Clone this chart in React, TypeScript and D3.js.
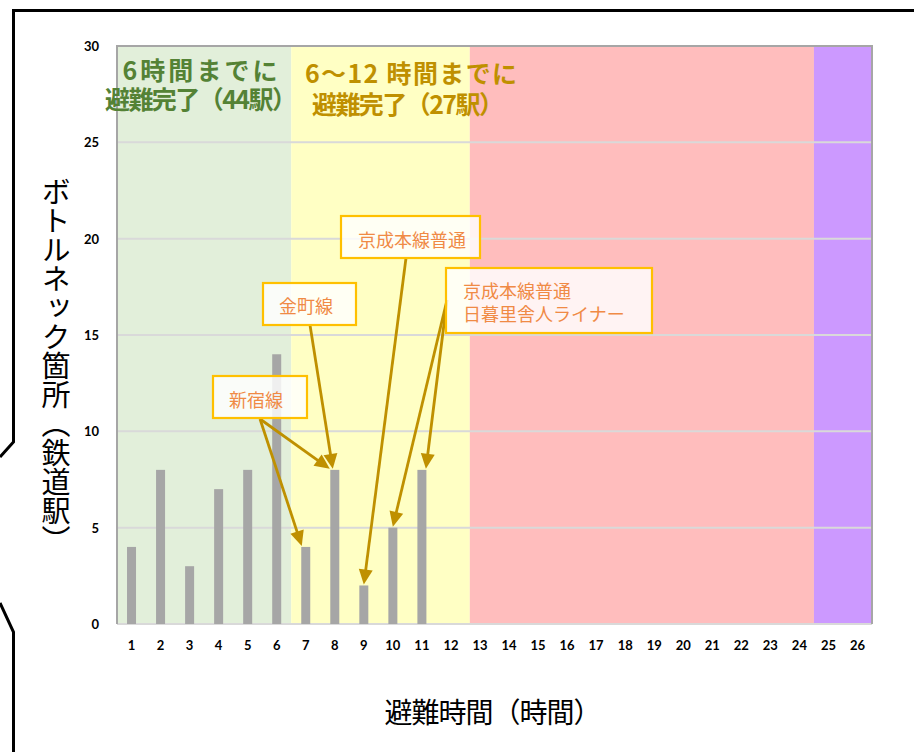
import React from 'react';
import * as d3 from 'd3';

// ---- data ----
const hourLabels: string[] = ['1','2','3','4','5','6','7','8','9','10','11','12','13','14','15','16','17','18','19','20','21','22','23','24','25','26'];
const bottleneckCounts: number[] = [4, 8, 3, 7, 8, 14, 4, 8, 2, 5, 8, 0, 0, 0, 0, 0, 0, 0, 0, 0, 0, 0, 0, 0, 0, 0];
const yTicks: number[] = [0, 5, 10, 15, 20, 25, 30];
const zoneStart: number[] = [0, 6, 12.15, 24];
const zoneEnd: number[] = [6, 12.15, 24, 26];
const zoneColors: string[] = ['#e2efda', '#ffffc4', '#ffbdbd', '#cc99ff'];
const annotationLines: string[][] = [['京成本線普通'], ['京成本線普通', '日暮里舎人ライナー'], ['金町線'], ['新宿線']];
const annotationTargets: string[][] = [['9'], ['10', '11'], ['8'], ['7', '8']];
const yTitle = 'ボトルネック箇所（鉄道駅）';
const xTitle = '避難時間（時間）';

// ---- layout ----
const W = 914, H = 752;
const PL = 117, PR = 872, PT = 46, PB = 624;
const boxes = [
  { x: 341, y: 216, w: 139, h: 42, ox: 406, oy: 258, tx: 412, ty: 239, anchor: 'middle', dx: [0] },
  { x: 446, y: 268, w: 206, h: 65, ox: 447, oy: 300, tx: 463, ty: 290, anchor: 'start', dx: [0, 4] },
  { x: 263, y: 283, w: 93, h: 42, ox: 310, oy: 325, tx: 306, ty: 305, anchor: 'middle', dx: [-2] },
  { x: 213, y: 376, w: 94, h: 42, ox: 260, oy: 419, tx: 256, ty: 399, anchor: 'middle', dx: [-4, -5] },
];
const CJK = '"Noto Sans CJK JP", "Noto Sans", sans-serif';
const NUM = 'Lato, "Open Sans", sans-serif';

export default function App() {
  const x = d3.scaleBand<string>().domain(hourLabels).range([PL, PR]).padding(0);
  const xh = d3.scaleLinear().domain([0, 26]).range([PL, PR]);
  const y = d3.scaleLinear().domain([0, 30]).range([PB, PT]);
  const bw = x.bandwidth() * 0.31;

  const arrow = (x1: number, y1: number, x2: number, y2: number, key: string) => {
    const len = Math.hypot(x2 - x1, y2 - y1);
    const ux = (x2 - x1) / len, uy = (y2 - y1) / len;
    const hl = 15, hw = 7;
    const bx = x2 - ux * hl, by = y2 - uy * hl;
    const px = -uy, py = ux;
    const pts = [[x2, y2], [bx + px * hw, by + py * hw], [bx - px * hw, by - py * hw]];
    return (
      <g key={key}>
        <line x1={x1} y1={y1} x2={bx + ux * 2} y2={by + uy * 2} stroke="#bf9000" strokeWidth={2.8} />
        <polygon points={pts.map(p => p.join(',')).join(' ')} fill="#bf9000" />
      </g>
    );
  };

  return (
    <svg width={W} height={H} style={{ position: 'absolute', left: 0, top: 0, background: '#fff' }}>
      {/* outer frame */}
      <path d={`M ${W + 5} 10.5 L 13.5 10.5 L 13.5 442 L 0 457`} fill="none" stroke="#000" strokeWidth={3} />
      <path d={`M 0 603 L 13.5 632 L 13.5 ${H + 5}`} fill="none" stroke="#000" strokeWidth={3} />

      {/* zones */}
      {zoneStart.map((s, i) => (
        <rect key={'z' + i} x={xh(s)} y={PT} width={xh(zoneEnd[i]) - xh(s)} height={PB - PT} fill={zoneColors[i]} />
      ))}
      {/* gridlines */}
      {yTicks.filter(t => t > 0 && t < 30).map(t => (
        <line key={'g' + t} x1={PL} x2={PR} y1={y(t)} y2={y(t)} stroke="#d9d9d9" strokeWidth={2} />
      ))}
      <line x1={PL} x2={PR} y1={PB} y2={PB} stroke="#d9d9d9" strokeWidth={2} />
      <path d={`M ${PL} ${PB} L ${PL} ${PT} L ${PR} ${PT} L ${PR} ${PB}`} fill="none" stroke="#a6a6a6" strokeWidth={2} />

      {/* bars */}
      {hourLabels.map((h, i) => bottleneckCounts[i] > 0 ? (
        <rect key={'b' + h} x={x(h)! + x.bandwidth() / 2 - bw / 2} y={y(bottleneckCounts[i])} width={bw} height={PB - y(bottleneckCounts[i])} fill="#a6a6a6" />
      ) : null)}

      {/* y ticks */}
      {yTicks.map(t => (
        <text key={'yt' + t} x={99} y={y(t)} textAnchor="end" dominantBaseline="central" fontFamily={NUM} fontWeight={700} fontSize={13} fill="#000">{t}</text>
      ))}
      {/* x ticks */}
      {hourLabels.map(h => (
        <text key={'xt' + h} x={x(h)! + x.bandwidth() / 2} y={645} textAnchor="middle" dominantBaseline="central" fontFamily={NUM} fontWeight={700} fontSize={13} fill="#000">{h}</text>
      ))}

      {/* zone titles */}
      <text x={200} y={69} textAnchor="middle" dominantBaseline="central" fontFamily={CJK} fontWeight={700} fontSize={25} fill="#548235" textLength={155} lengthAdjust="spacing">6時間までに</text>
      <text x={201} y={98} textAnchor="middle" dominantBaseline="central" fontFamily={CJK} fontWeight={700} fontSize={25} fill="#548235" textLength={192} lengthAdjust="spacing">避難完了（44駅）</text>
      <text x={411} y={72} textAnchor="middle" dominantBaseline="central" fontFamily={CJK} fontWeight={700} fontSize={25} fill="#bf9000" textLength={212} lengthAdjust="spacing">6～12 時間までに</text>
      <text x={408} y={103} textAnchor="middle" dominantBaseline="central" fontFamily={CJK} fontWeight={700} fontSize={25} fill="#bf9000" textLength={192} lengthAdjust="spacing">避難完了（27駅）</text>

      {/* annotation arrows */}
      {annotationTargets.map((targets, i) => targets.map((t, j) => {
        const b = boxes[i];
        const idx = hourLabels.indexOf(t);
        const tx = x(t)! + x.bandwidth() / 2 + b.dx[j];
        const ty = y(bottleneckCounts[idx]) - 1;
        return arrow(b.ox, b.oy, tx, ty, `a${i}-${j}`);
      }))}

      {/* annotation boxes */}
      {annotationLines.map((lines, i) => {
        const b = boxes[i];
        return (
          <g key={'box' + i}>
            <rect x={b.x} y={b.y} width={b.w} height={b.h} fill="#ffffff" fillOpacity={0.82} stroke="#ffc000" strokeWidth={2.2} />
            {lines.map((l, k) => (
              <text key={k} x={b.tx} y={b.ty + k * 23} textAnchor={b.anchor as any} dominantBaseline="central" fontFamily={CJK} fontSize={18} fill="#f08a45">{l}</text>
            ))}
          </g>
        );
      })}

      {/* axis titles */}
      <text x={56} y={366} textAnchor="middle" style={{ writingMode: 'vertical-rl' as any }} fontFamily={CJK} fontSize={29} fill="#000">{yTitle}</text>
      <text x={493} y={711} textAnchor="middle" dominantBaseline="central" fontFamily={CJK} fontSize={28} fill="#000" textLength={217} lengthAdjust="spacing">{xTitle}</text>
    </svg>
  );
}
